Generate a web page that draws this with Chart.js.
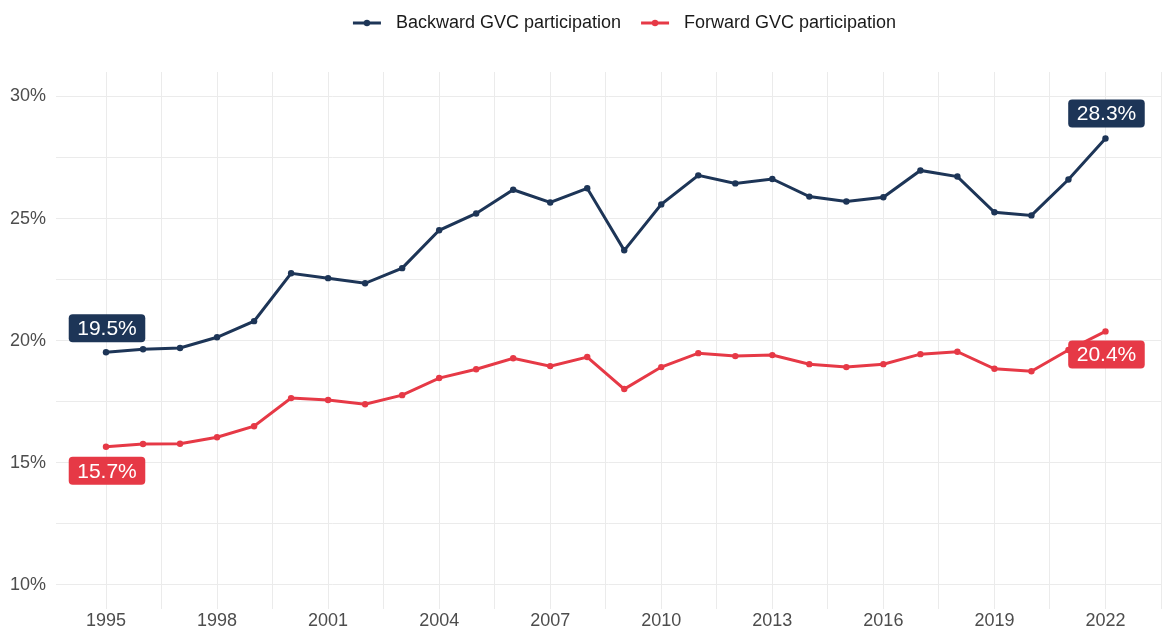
<!DOCTYPE html>
<html><head><meta charset="utf-8">
<script src="https://cdn.jsdelivr.net/npm/chart.js@4.4.1/dist/chart.umd.min.js"></script>
<style>html,body{margin:0;padding:0;background:#fff}#wrap{width:1165px;height:633px;position:relative}</style>
</head><body><div id="wrap"><canvas id="c"></canvas></div>
<script>
const years = [1995,1996,1997,1998,1999,2000,2001,2002,2003,2004,2005,2006,2007,2008,2009,2010,2011,2012,2013,2014,2015,2016,2017,2018,2019,2020,2021,2022];
const backward = [19.53,19.65,19.70,20.14,20.80,22.76,22.56,22.35,22.97,24.52,25.21,26.18,25.66,26.24,23.70,25.58,26.77,26.44,26.62,25.90,25.70,25.87,26.97,26.72,25.26,25.13,26.60,28.28];
const forward = [15.66,15.77,15.78,16.05,16.50,17.65,17.57,17.40,17.77,18.47,18.83,19.28,18.96,19.33,18.02,18.92,19.49,19.37,19.41,19.04,18.92,19.04,19.45,19.55,18.85,18.75,19.62,20.38];
const seriesNames = ['Backward GVC participation','Forward GVC participation'];
const xTickValues = [1995,1996.5,1998,1999.5,2001,2002.5,2004,2005.5,2007,2008.5,2010,2011.5,2013,2014.5,2016,2017.5,2019,2020.5,2022,2023.5];
const xLabelYears = [1995,1998,2001,2004,2007,2010,2013,2016,2019,2022];
const yTickValues = [10,12.5,15,17.5,20,22.5,25,27.5,30];
const yLabelValues = [10,15,20,25,30];

const NAVY = '#1D3557', RED = '#E63946';
const colors = [NAVY, RED];
const FONT = '"Liberation Sans", Arial, Helvetica, sans-serif';
Chart.defaults.font.family = FONT;

function markerCanvas(color){
  const c = document.createElement('canvas');
  c.width = 30; c.height = 8;
  const g = c.getContext('2d');
  g.strokeStyle = color; g.lineWidth = 3;
  g.beginPath(); g.moveTo(1,4); g.lineTo(29,4); g.stroke();
  g.fillStyle = color; g.beginPath(); g.arc(15,4,3.2,0,Math.PI*2); g.fill();
  return c;
}
const markers = colors.map(markerCanvas);

const legendHeightPlugin = {
  id: 'legendHeight',
  afterInit(chart){
    const l = chart.legend;
    if (!l) return;
    const f = l.fit.bind(l);
    l.fit = function(){ f(); this.height = 72; };
  },
  afterLayout(chart){
    const l = chart.legend;
    if (!l) return;
    l.left += 13; l.right += 13;
  }
};

const labelPlugin = {
  id: 'endLabels',
  afterDatasetsDraw(chart){
    const {ctx, scales:{x, y}} = chart;
    const last = years.length - 1;
    const specs = [
      {vals: backward, idx: 0, dy: -24, color: NAVY},
      {vals: forward, idx: 0, dy: 24, color: RED},
      {vals: backward, idx: last, dy: -25, color: NAVY},
      {vals: forward, idx: last, dy: 23, color: RED}
    ];
    ctx.save();
    ctx.font = '21px ' + FONT;
    ctx.textAlign = 'center';
    ctx.textBaseline = 'middle';
    specs.forEach(s => {
      const px = x.getPixelForValue(years[s.idx]) + 1;
      const py = y.getPixelForValue(s.vals[s.idx]) + s.dy;
      const txt = s.vals[s.idx].toFixed(1) + '%';
      const w = ctx.measureText(txt).width + 17;
      const h = 28;
      ctx.fillStyle = s.color;
      ctx.beginPath();
      ctx.roundRect(px - w/2, py - h/2, w, h, 4);
      ctx.fill();
      ctx.fillStyle = '#ffffff';
      ctx.fillText(txt, px, py + 1);
    });
    ctx.restore();
  }
};

const datasets = [backward, forward].map((vals, i) => ({
  label: seriesNames[i],
  data: years.map((yr, j) => ({x: yr, y: vals[j]})),
  borderColor: colors[i],
  backgroundColor: colors[i],
  pointBackgroundColor: colors[i],
  pointBorderWidth: 0,
  pointRadius: 3.2,
  borderWidth: 3,
  tension: 0,
  fill: false
}));

new Chart(document.getElementById('c'), {
  type: 'line',
  data: { datasets },
  plugins: [legendHeightPlugin, labelPlugin],
  options: {
    responsive: true,
    maintainAspectRatio: false,
    animation: false,
    layout: { padding: { left: 0, right: 0, top: 0, bottom: 0 } },
    plugins: {
      tooltip: { enabled: false },
      legend: {
        position: 'top',
        fullSize: false,
        labels: {
          color: '#1a1a1a',
          font: { size: 18 },
          padding: 14,
          usePointStyle: true,
          pointStyleWidth: 40,
          boxHeight: 10,
          generateLabels(chart){
            return chart.data.datasets.map((d, i) => ({
              text: d.label,
              pointStyle: markers[i],
              fillStyle: colors[i],
              strokeStyle: colors[i],
              lineWidth: 0,
              fontColor: '#1a1a1a',
              hidden: false,
              datasetIndex: i
            }));
          }
        }
      }
    },
    scales: {
      x: {
        type: 'linear',
        min: 1993.65,
        max: 2023.5,
        afterBuildTicks(axis){ axis.ticks = xTickValues.map(v => ({value: v})); },
        ticks: {
          autoSkip: false,
          maxRotation: 0,
          padding: 1,
          color: '#4d4d4d',
          font: { size: 18 },
          callback(v){ return xLabelYears.includes(v) ? String(v) : ''; }
        },
        grid: { color: '#ebebeb', lineWidth: 1, drawTicks: false },
        border: { display: false }
      },
      y: {
        type: 'linear',
        min: 9,
        max: 31,
        afterBuildTicks(axis){ axis.ticks = yTickValues.map(v => ({value: v})); },
        ticks: {
          autoSkip: false,
          padding: 10,
          color: '#4d4d4d',
          font: { size: 18 },
          callback(v){ return yLabelValues.includes(v) ? v + '%' : ''; }
        },
        grid: { color: '#ebebeb', lineWidth: 1, drawTicks: false },
        border: { display: false }
      }
    }
  }
});
</script>
</body></html>
